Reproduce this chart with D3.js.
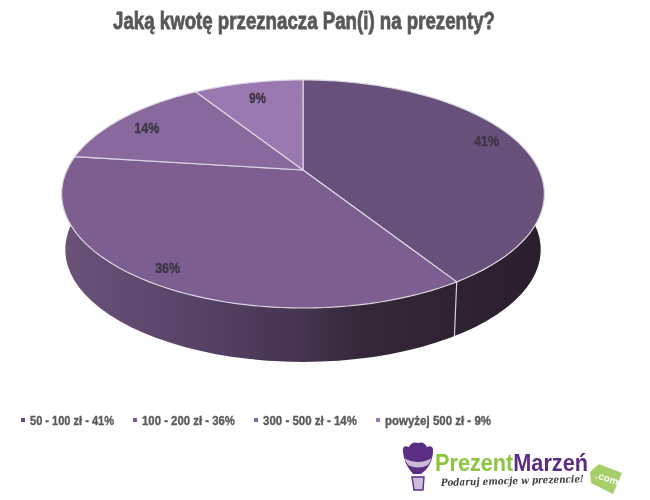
<!DOCTYPE html>
<html>
<head>
<meta charset="utf-8">
<script src="https://cdn.jsdelivr.net/npm/d3@7"></script>
<style>html,body{margin:0;padding:0;background:#fff}svg{display:block}</style>
</head>
<body>
<svg id="c" width="650" height="500"></svg>
<script>
const titleText = "Jaką kwotę przeznacza Pan(i) na prezenty?";
const categories = ["50 - 100 zł - 41%", "100 - 200 zł - 36%", "300 - 500 zł - 14%", "powyżej 500 zł - 9%"];
const values = [41, 36, 14, 9];
const labels = ["41%", "36%", "14%", "9%"];
const colors = ["#67507a", "#7d5e90", "#88699e", "#9a78b0"];

const svg = d3.select("#c");
const defs = svg.append("defs");
defs.append("filter").attr("id", "soft").append("feGaussianBlur").attr("stdDeviation", 0.45);
const pie = d3.pie().sort(null).value(d => d)(values);

const k = 0.21;
const project = (a, rad, ox, oy, s) => {
  const X = Math.sin(a) * rad, Y = -Math.cos(a) * rad;
  const w = 1 - k * Y;
  return [ox + s * 236 * X / w, oy + s * 109 * Y / w];
};
const topPt = (a, r = 1) => project(a, r, 303, 170, 1);
const botPt = (a) => project(a, 1, 303, 226, 0.985);
const line = d3.line();
const samples = (a0, a1) => d3.range(0, 61).map(i => a0 + (a1 - a0) * i / 60);

const grad = defs.append("linearGradient").attr("id", "side")
  .attr("gradientUnits", "userSpaceOnUse").attr("x1", 62).attr("x2", 545).attr("y1", 0).attr("y2", 0);
[[0, "#6a5279"], [0.25, "#5a4469"], [0.5, "#45334f"], [0.62, "#352839"], [0.8, "#2e2233"], [1, "#2a1e2e"]]
  .forEach(s => grad.append("stop").attr("offset", s[0]).attr("stop-color", s[1]));

// side wall, visible front half
const visibleFrom = Math.PI / 2 - 0.25, visibleTo = 3 * Math.PI / 2 + 0.25;
const topArc = samples(visibleFrom, visibleTo).map(a => topPt(a));
const botArc = samples(visibleTo, visibleFrom).map(a => botPt(a));
svg.append("path").attr("d", line(topArc.concat(botArc)) + "Z").attr("fill", "url(#side)");

// seam on the wall at the boundary of slices
const seamA = pie[0].endAngle;
svg.append("path").attr("d", line([topPt(seamA), botPt(seamA)]))
  .attr("stroke", "#d9d2de").attr("stroke-width", 1.2).attr("fill", "none");

// top surface
svg.append("g").selectAll("path").data(pie).join("path")
  .attr("d", d => line([topPt(0, 0)].concat(samples(d.startAngle, d.endAngle).map(a => topPt(a)))) + "Z")
  .attr("fill", (d, i) => colors[i])
  .attr("stroke", "#ddd5e3").attr("stroke-width", 1.2).attr("stroke-linejoin", "round");

// data labels
const labelFont = "'Liberation Sans', Arial, sans-serif";
const labelReach = [0.85, 0.9, 0.86, 0.8];
const labelNudge = [-4, 0, 4, 0];
svg.append("g").selectAll("text").data(pie).join("text")
  .attr("transform", (d, i) => {
    const p = topPt((d.startAngle + d.endAngle) / 2, labelReach[i]);
    return `translate(${p[0]},${p[1] + labelNudge[i]})`;
  })
  .attr("text-anchor", "middle").attr("dy", "0.35em")
  .attr("font-family", labelFont).attr("font-weight", "bold").attr("font-size", 14)
  .attr("textLength", (d, i) => labels[i].length * 8.3).attr("lengthAdjust", "spacingAndGlyphs")
  .attr("stroke", "#403548").attr("stroke-width", 0.4)
  .attr("fill", "#403548").attr("filter", "url(#soft)").text((d, i) => labels[i]);

// title
svg.append("text").attr("x", 304).attr("y", 29).attr("text-anchor", "middle")
  .attr("font-family", labelFont).attr("font-weight", "bold").attr("font-size", 24)
  .attr("textLength", 382).attr("lengthAdjust", "spacingAndGlyphs")
  .attr("stroke", "#595959").attr("stroke-width", 0.8)
  .attr("fill", "#595959").attr("filter", "url(#soft)").text(titleText);

// legend
const legendWidths = [84, 93, 94, 106];
const legendStarts = legendWidths.reduce((acc, w) => acc.concat(acc[acc.length - 1] + 7 + w + 21), [23]);
const legend = svg.append("g").selectAll("g").data(categories).join("g")
  .attr("transform", (d, i) => `translate(${legendStarts[i]},420)`);
legend.append("rect").attr("x", -2).attr("y", -2).attr("width", 4).attr("height", 4)
  .attr("fill", (d, i) => colors[i]);
legend.append("text").attr("x", 7).attr("dy", "0.35em")
  .attr("font-family", labelFont).attr("font-weight", "bold").attr("font-size", 13.5)
  .attr("textLength", (d, i) => legendWidths[i]).attr("lengthAdjust", "spacingAndGlyphs")
  .attr("stroke", "#595959").attr("stroke-width", 0.35)
  .attr("fill", "#595959").attr("filter", "url(#soft)").text(d => d);

// logo
const logo = svg.append("g").attr("filter", "url(#soft)");
const purple = "#5a2d82", green = "#8cc63f";
logo.append("path").attr("d", "M403,452 Q402,444 409,447 Q412,441 418,443 Q424,441 427,447 Q434,444 433,453 Q432,466 421,474 L413,474 Q404,464 403,452Z").attr("fill", purple);
logo.append("path").attr("d", "M404,458 Q418,466 432,458 L428,465 Q418,470 408,465Z").attr("fill", "#cbbcd9");
logo.append("path").attr("d", "M412,477 L424,477 L423,490 L414,490Z").attr("fill", "#cbbcd9").attr("stroke", purple).attr("stroke-width", 1.4);
logo.append("text").attr("x", 435).attr("y", 471).attr("font-family", labelFont).attr("font-size", 23)
  .attr("textLength", 153).attr("lengthAdjust", "spacingAndGlyphs").attr("font-weight", "bold")
  .call(t => {
    t.append("tspan").attr("fill", green).text("Prezent");
    t.append("tspan").attr("fill", purple).text("Marzeń");
  });
logo.append("text").attr("x", 441).attr("y", 486).attr("font-family", "'DejaVu Serif', serif").attr("font-style", "italic")
  .attr("font-size", 10).attr("font-weight", "bold").attr("textLength", 143).attr("lengthAdjust", "spacingAndGlyphs")
  .attr("fill", "#444").attr("transform", "rotate(-1.5 441 486)").text("Podaruj emocje w prezencie!");
logo.append("path").attr("d", "M590,472 L599,464 L622,473 L613,494 L591,483Z").attr("fill", "#a6cf6a");
logo.append("text").attr("x", 595).attr("y", 478).attr("font-family", labelFont).attr("font-size", 10)
  .attr("font-weight", "bold").attr("fill", "#fff").attr("transform", "rotate(18 595 478)").text(".com");
</script>
</body>
</html>
